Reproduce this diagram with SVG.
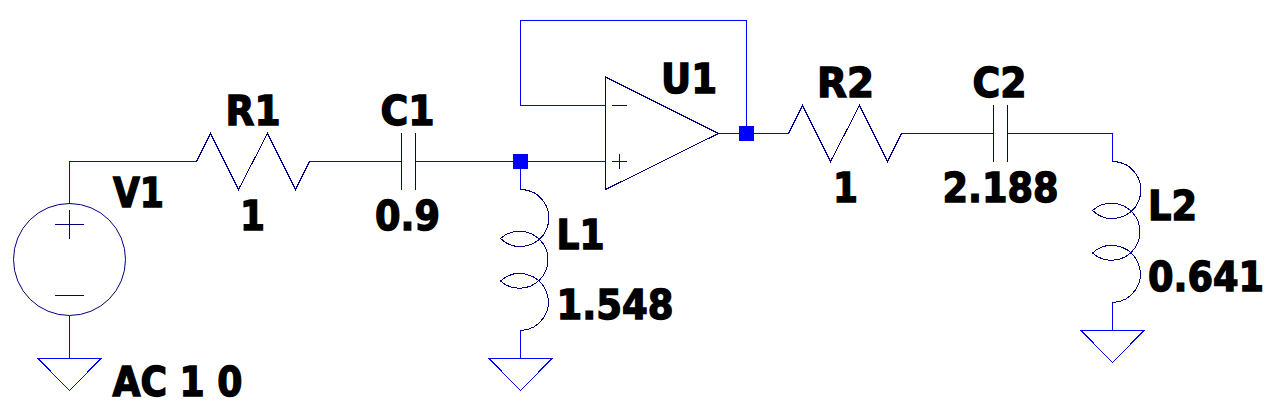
<svg xmlns="http://www.w3.org/2000/svg" xmlns:xlink="http://www.w3.org/1999/xlink" width="1283" height="418" viewBox="0 0 1283 418">
<style>
.w{fill:none;stroke:#0000ff;stroke-width:1;shape-rendering:crispEdges}
.c{fill:none;stroke:#000080;stroke-width:1;shape-rendering:crispEdges}
.j{fill:#0000ff;stroke:none}
text{font-family:"DejaVu Sans","Liberation Sans",sans-serif;font-weight:bold;font-size:40px;fill:#000000;stroke:#000000;stroke-width:1.4px}
</style>
<defs>
<path id="coil" class="c" d="M520.5,189.5A28.5,28.5 0 1 1 500.5,238.5A28.5,28.5 0 1 1 500.5,281A28.5,28.5 0 1 1 520.5,330.5"/>
<path id="res" class="c" d="M0,0L14,-28L42,28L71,-28L99,28L113,0"/>
<path id="gnd" class="w" d="M-31.5,0H31.5L0,32Z"/>
</defs>
<rect width="1283" height="418" fill="#ffffff"/>
<g id="connectors">
<path class="w" d="M69.5,203.5V161.5H196.5"/>
<path class="w" d="M69.5,315.5V358.5"/>
<path class="w" d="M309.5,161.5H401.5"/>
<path class="w" d="M415.5,161.5H604.5"/>
<path class="w" d="M520.5,161.5V189.5"/>
<path class="w" d="M520.5,330.5V358.5"/>
<path class="w" d="M604.5,105.5H520.5V20.5H746.5V133.5"/>
<path class="w" d="M718.5,133.5H788.5"/>
<path class="w" d="M901.5,133.5H993.5"/>
<path class="w" d="M1007.5,133.5H1112.5V161.5"/>
<path class="w" d="M1112.5,302.5V330.5"/>
<rect class="j" x="513" y="154" width="15" height="15"/>
<rect class="j" x="739" y="126" width="15" height="15"/>
</g>
<g id="V1">
<circle class="c" cx="69.5" cy="259.5" r="56" style="shape-rendering:auto"/>
<path class="c" d="M55,224.5H84M69.5,210V239M55,295.5H84"/>
<text x="113" y="206.5" textLength="51" lengthAdjust="spacingAndGlyphs">V1</text>
<text x="112.5" y="395.5" textLength="130" lengthAdjust="spacingAndGlyphs">AC 1 0</text>
</g>
<g id="GND1"><use xlink:href="#gnd" href="#gnd" x="69.5" y="358.5"/></g>
<g id="R1">
<use xlink:href="#res" href="#res" x="196.5" y="161.5"/>
<text x="225.5" y="124.5" textLength="55" lengthAdjust="spacingAndGlyphs">R1</text>
<text x="240" y="229.5" textLength="25" lengthAdjust="spacingAndGlyphs">1</text>
</g>
<g id="C1">
<path class="c" d="M401.5,133V190M415.5,133V190"/>
<text x="380.5" y="124.5" textLength="54" lengthAdjust="spacingAndGlyphs">C1</text>
<text x="375" y="229.5" textLength="65" lengthAdjust="spacingAndGlyphs">0.9</text>
</g>
<g id="L1">
<use xlink:href="#coil" href="#coil"/>
<text x="556.5" y="248.5" textLength="48" lengthAdjust="spacingAndGlyphs">L1</text>
<text x="556.5" y="318.5" textLength="117" lengthAdjust="spacingAndGlyphs">1.548</text>
</g>
<g id="GND2"><use xlink:href="#gnd" href="#gnd" x="520.5" y="358.5"/></g>
<g id="U1">
<path class="c" d="M605.5,77V189.5L718.5,133.5Z"/>
<path class="c" d="M612,105.5H627M612,161.5H627M619.5,154V169"/>
<text x="661" y="93" textLength="56" lengthAdjust="spacingAndGlyphs">U1</text>
</g>
<g id="R2">
<use xlink:href="#res" href="#res" x="788.5" y="133.5"/>
<text x="817" y="97" textLength="57" lengthAdjust="spacingAndGlyphs">R2</text>
<text x="833" y="201.5" textLength="25" lengthAdjust="spacingAndGlyphs">1</text>
</g>
<g id="C2">
<path class="c" d="M993.5,105V162M1007.5,105V162"/>
<text x="972.5" y="97" textLength="54" lengthAdjust="spacingAndGlyphs">C2</text>
<text x="942.5" y="201.5" textLength="116" lengthAdjust="spacingAndGlyphs">2.188</text>
</g>
<g id="L2">
<use xlink:href="#coil" href="#coil" x="592" y="-28"/>
<text x="1148" y="219.5" textLength="49" lengthAdjust="spacingAndGlyphs">L2</text>
<text x="1148" y="291" textLength="116" lengthAdjust="spacingAndGlyphs">0.641</text>
</g>
<g id="GND3"><use xlink:href="#gnd" href="#gnd" x="1112.5" y="330.5"/></g>
</svg>
